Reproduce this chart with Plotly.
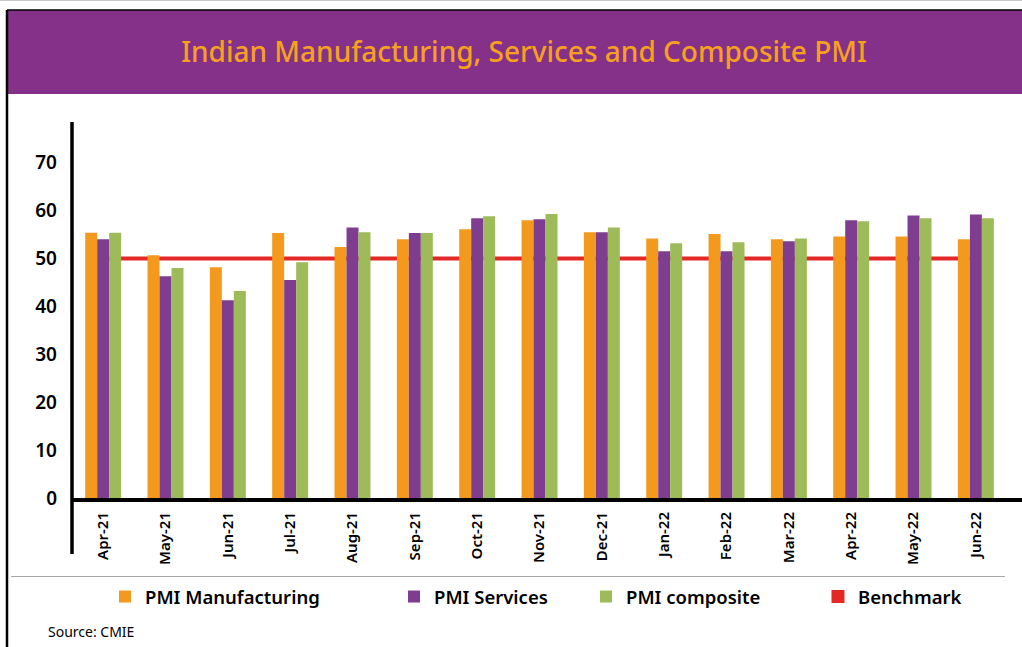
import plotly.graph_objects as go

# Monthly PMI readings, Apr-2021 to Jun-2022
MONTHS = ["Apr-21", "May-21", "Jun-21", "Jul-21", "Aug-21", "Sep-21", "Oct-21", "Nov-21",
          "Dec-21", "Jan-22", "Feb-22", "Mar-22", "Apr-22", "May-22", "Jun-22"]
PMI_MANUFACTURING = [55.4, 50.7, 48.2, 55.3, 52.4, 54.0, 56.1, 58.0, 55.5, 54.2, 55.1, 54.0, 54.6, 54.6, 54.0]
PMI_SERVICES = [54.0, 46.3, 41.3, 45.5, 56.5, 55.3, 58.4, 58.2, 55.5, 51.5, 51.5, 53.6, 58.0, 59.0, 59.2]
PMI_COMPOSITE = [55.4, 48.0, 43.2, 49.2, 55.5, 55.3, 58.8, 59.3, 56.5, 53.2, 53.4, 54.2, 57.8, 58.4, 58.4]
BENCHMARK = 50
Y_TICKS = [0, 10, 20, 30, 40, 50, 60, 70]

ORANGE = "#F3991E"
PURPLE = "#7E3D8E"
GREEN = "#9DBB59"
RED = "#E32826"
HEADER = "#853189"
TITLE_ORANGE = "#F6A11D"
FONT = "Noto Sans"

W, H = 1022, 647
L, R, T, B = 72, 0, 122, 149

fig = go.Figure()

series = [
    ("PMI Manufacturing", PMI_MANUFACTURING, ORANGE, "legend"),
    ("PMI Services", PMI_SERVICES, PURPLE, "legend2"),
    ("PMI composite", PMI_COMPOSITE, GREEN, "legend3"),
]
for name, vals, color, lg in series:
    fig.add_trace(go.Bar(x=MONTHS, y=vals, name=name, marker=dict(color=color, line=dict(width=0)),
                         legend=lg, showlegend=True))

# legend entry for the benchmark line (the line itself is a shape below the bars)
fig.add_trace(go.Scatter(x=[None], y=[None], mode="markers", name="Benchmark", legend="legend4",
                         showlegend=True, marker=dict(symbol="square", size=13, color=RED)))

n = len(MONTHS)
shapes = [
    # benchmark line, behind the bars
    dict(type="line", xref="x", yref="y", x0=0, x1=n - 1, y0=BENCHMARK, y1=BENCHMARK,
         line=dict(color=RED, width=4), layer="below"),
]


def px_x(p):
    return (p - L) / (W - L - R)


def px_y(p):
    return (H - B - p) / (H - T - B)


# header band and frame
shapes += [
    dict(type="rect", xref="paper", yref="paper", x0=px_x(7), x1=px_x(1022), y0=px_y(94), y1=px_y(10),
         fillcolor=HEADER, line=dict(width=0), layer="below"),
    dict(type="line", xref="paper", yref="paper", x0=px_x(7), x1=px_x(1022), y0=px_y(10), y1=px_y(10),
         line=dict(color="black", width=1.5)),
    dict(type="line", xref="paper", yref="paper", x0=px_x(7), x1=px_x(7), y0=px_y(10), y1=px_y(647),
         line=dict(color="black", width=2.5)),
    dict(type="line", xref="paper", yref="paper", x0=px_x(0), x1=px_x(1022), y0=px_y(0.5), y1=px_y(0.5),
         line=dict(color="#C8C8C8", width=1)),
    # separator above the legend
    dict(type="line", xref="paper", yref="paper", x0=px_x(11), x1=px_x(1005), y0=px_y(576.5), y1=px_y(576.5),
         line=dict(color="#A6A6A6", width=1)),
    # vertical axis line, running down past the month labels
    dict(type="line", xref="x domain", yref="paper", x0=0, x1=0, y0=px_y(554), y1=1,
         line=dict(color="black", width=3.5)),
]

legend_common = dict(orientation="h", xref="container", yref="container", xanchor="left",
                     yanchor="middle", y=1 - 597 / H, bgcolor="rgba(0,0,0,0)", itemwidth=30,
                     font=dict(family=FONT, size=18.5, color="black", weight=600))
legend_lefts = [105, 394, 586, 818]

fig.update_layout(
    width=W, height=H,
    showlegend=True,
    margin=dict(l=L, r=R, t=T, b=B, pad=0),
    paper_bgcolor="white", plot_bgcolor="white",
    barmode="group", bargap=0.423, bargroupgap=0,
    title=dict(text="Indian Manufacturing, Services and Composite PMI", x=524 / W, y=1 - 52 / H,
               xref="container", yref="container", xanchor="center", yanchor="middle",
               font=dict(family=FONT, size=28, color=TITLE_ORANGE, weight=500)),
    xaxis=dict(range=[-0.5, n - 0.5 + 0.24], tickangle=-90, showgrid=False, showline=True,
               linecolor="black", linewidth=4, ticks="", ticklabelstandoff=4,
               tickfont=dict(family=FONT, size=15, color="black", weight=600), fixedrange=True),
    yaxis=dict(range=[0, 78.5], tickvals=Y_TICKS, showgrid=False, zeroline=False, showline=False,
               ticks="", ticklabelstandoff=14,
               tickfont=dict(family=FONT, size=19, color="black", weight=600), fixedrange=True),
    shapes=shapes,
    legend=dict(x=legend_lefts[0] / W, **legend_common),
    legend2=dict(x=legend_lefts[1] / W, **legend_common),
    legend3=dict(x=legend_lefts[2] / W, **legend_common),
    legend4=dict(x=legend_lefts[3] / W, **legend_common),
    annotations=[
        dict(text="Source: CMIE", xref="paper", yref="paper", x=px_x(46), y=px_y(631),
             xanchor="left", yanchor="middle", showarrow=False,
             font=dict(family=FONT, size=14, color="black")),
    ],
)

fig.write_html("out.html")
